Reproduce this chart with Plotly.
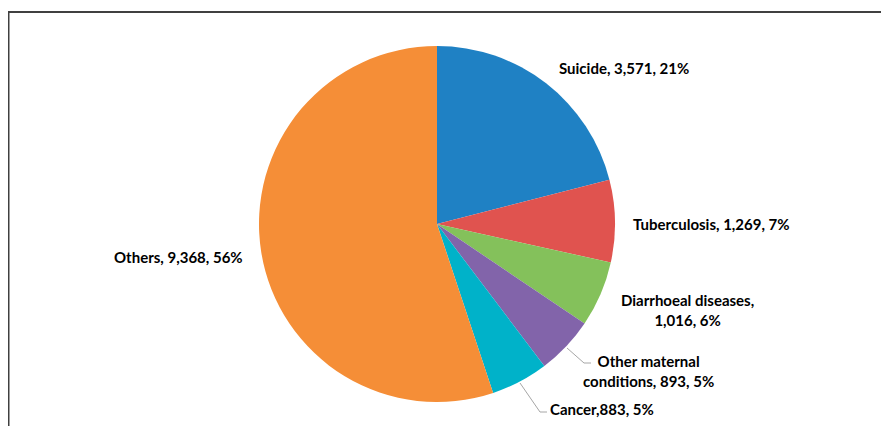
import plotly.graph_objects as go

categories = ["Suicide", "Tuberculosis", "Diarrhoeal diseases", "Other maternal conditions", "Cancer", "Others"]
values = [3571, 1269, 1016, 893, 883, 9368]
percents = ["21%", "7%", "6%", "5%", "5%", "56%"]
colors = ["#1F81C4", "#E0534F", "#84C15B", "#8264AA", "#00B2C9", "#F58E37"]

label_texts = [
    "Suicide, 3,571, 21%",
    "Tuberculosis, 1,269, 7%",
    "Diarrhoeal diseases,<br>1,016, 6%",
    "Other maternal<br>conditions, 893, 5%",
    "Cancer,883, 5%",
    "Others, 9,368, 56%",
]

# page has an 8px body margin, so the figure is a bit smaller than the window
OFF = 8
W, H = 881, 418
cx, cy, r = 437, 224, 178

def px(x):
    return (x - OFF) / W

def py(y):
    return 1 - (y - OFF) / H

fig = go.Figure(go.Pie(
    labels=categories,
    values=values,
    sort=False,
    direction="clockwise",
    rotation=0,
    marker=dict(colors=colors, line=dict(width=0)),
    textinfo="none",
    hoverinfo="label+value+percent",
    showlegend=False,
    domain=dict(x=[px(cx - r), px(cx + r)], y=[py(cy + r), py(cy - r)]),
))

# label anchor positions (window pixels): x, y, xanchor
label_pos = [
    (557, 68, "left"),
    (631, 224, "left"),
    (687, 310, "center"),
    (648, 371, "center"),
    (548, 409, "left"),
    (245, 257, "right"),
]
for txt, (x, y, xa) in zip(label_texts, label_pos):
    fig.add_annotation(
        x=px(x), y=py(y), xref="paper", yref="paper",
        text="<b>" + txt + "</b>", showarrow=False,
        xanchor=xa, yanchor="middle", align="center",
        font=dict(family="Lato", size=15, color="#000000"),
    )

# leader lines
leaders = [
    [(567, 348), (584, 363), (591, 363)],
    [(520, 383), (540, 412), (547, 412)],
]
for pts in leaders:
    path = "M " + " L ".join(f"{px(x)},{py(y)}" for x, y in pts)
    fig.add_shape(type="path", path=path, xref="paper", yref="paper",
                  line=dict(color="#A6A6A6", width=1))

# chart border
fig.add_shape(type="rect", xref="paper", yref="paper",
              x0=px(8.5), x1=px(905), y0=py(440), y1=py(12),
              line=dict(color="#404040", width=2))

fig.update_layout(
    width=W, height=H,
    margin=dict(l=0, r=0, t=0, b=0),
    paper_bgcolor="white", plot_bgcolor="white",
)

fig.write_html("out.html")
